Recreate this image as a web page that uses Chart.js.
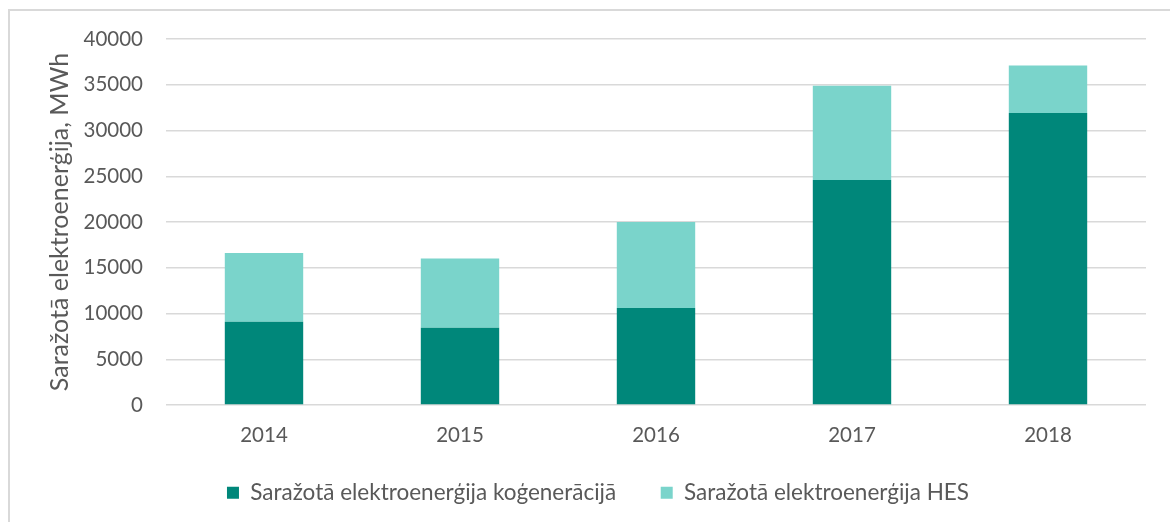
<!DOCTYPE html>
<html>
<head>
<meta charset="utf-8">
<script src="https://cdn.jsdelivr.net/npm/chart.js@4/dist/chart.umd.min.js"></script>
<style>
  html, body { margin: 0; padding: 0; background: #fff; overflow: hidden; }
  #frame { position: absolute; left: 8px; top: 9px; width: 1180px; height: 530px; border: 2px solid #d9d9d9; box-sizing: border-box; }
  #wrap { position: absolute; left: 0; top: 0; width: 1170px; height: 522px; }
</style>
</head>
<body>
<div id="frame"></div>
<div id="wrap"><canvas id="myChart"></canvas></div>
<script>
const years = ["2014", "2015", "2016", "2017", "2018"];
const kogeneracija = [9100, 8450, 10600, 24600, 31900];
const hes = [7500, 7550, 9400, 10300, 5200];
const seriesNames = ["Saražotā elektroenerģija koģenerācijā", "Saražotā elektroenerģija HES"];
const yTitle = "Saražotā elektroenerģija, MWh";

const textColor = "#595959";
const fontFamily = "Lato, 'Open Sans', sans-serif";

const ctx = document.getElementById("myChart").getContext("2d");
const myChart = new Chart(ctx, {
  type: "bar",
  data: {
    labels: years,
    datasets: [
      {
        label: seriesNames[0],
        backgroundColor: "#00877A",
        borderWidth: 0,
        data: kogeneracija,
      },
      {
        label: seriesNames[1],
        backgroundColor: "#7AD4CB",
        borderWidth: 0,
        data: hes,
      },
    ],
  },
  options: {
    responsive: true,
    maintainAspectRatio: false,
    animation: false,
    layout: {
      padding: { top: 39, right: 24, left: 50, bottom: 8 },
    },
    datasets: {
      bar: { categoryPercentage: 1, barPercentage: 0.4 },
    },
    scales: {
      y: {
        stacked: true,
        min: 0,
        max: 40000,
        border: { display: false },
        afterFit: (scale) => { scale.width = 116; },
        title: {
          display: true,
          text: yTitle,
          color: textColor,
          font: { family: fontFamily, size: 25 },
          padding: { top: -5, bottom: 0 },
        },
        grid: {
          color: "#d9d9d9",
          lineWidth: 1.5,
          drawTicks: false,
        },
        ticks: {
          stepSize: 5000,
          padding: 23,
          color: textColor,
          font: { family: fontFamily, size: 20.5 },
          callback: (v) => String(v),
        },
      },
      x: {
        stacked: true,
        afterFit: (scale) => { scale.height = 66.5; },
        border: { display: false },
        grid: { display: false },
        ticks: {
          padding: 10,
          color: textColor,
          font: { family: fontFamily, size: 20.5 },
        },
      },
    },
    plugins: {
      legend: {
        display: true,
        position: "bottom",
        labels: {
          color: textColor,
          boxWidth: 12,
          boxHeight: 12,
          padding: 10,
          font: { family: fontFamily, size: 22.5 },
          generateLabels: (chart) => {
            const items = Chart.defaults.plugins.legend.labels.generateLabels(chart);
            items[0].text = items[0].text + "      ";
            return items;
          },
        },
      },
      tooltip: { enabled: false },
    },
  },
});
</script>
</body>
</html>
